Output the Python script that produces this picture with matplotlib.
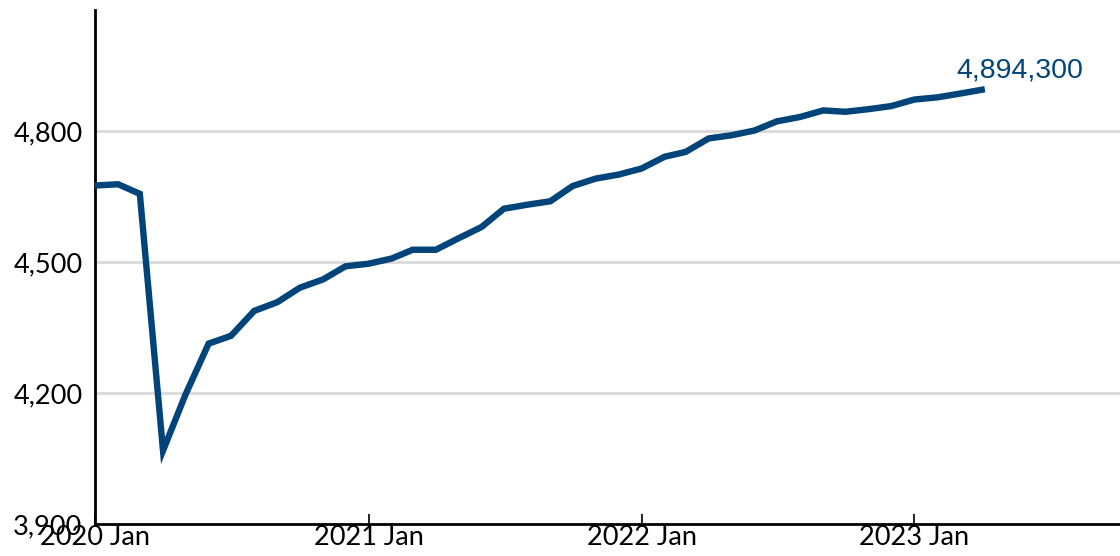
import matplotlib
matplotlib.use("Agg")
from matplotlib import pyplot as plt
import matplotlib.dates as mdates
import pandas as pd

# monthly values, thousands
months = pd.date_range("2020-01-01", periods=40, freq="MS")
values = [4675, 4678, 4656, 4068, 4196, 4313, 4331, 4388, 4408, 4441,
          4460, 4490, 4496, 4508, 4528, 4528, 4554, 4580, 4622, 4631,
          4639, 4674, 4691, 4700, 4714, 4741, 4752, 4783, 4790, 4801,
          4822, 4832, 4847, 4844, 4850, 4857, 4872, 4877, 4885, 4894.3]
last_label = "4,894,300"
yticks = [3900, 4200, 4500, 4800]
xticks = ["2020-01-01", "2021-01-01", "2022-01-01", "2023-01-01"]

line_color = "#00447a"

fig = plt.figure(figsize=(11.2, 5.56), dpi=100)
ax = fig.add_axes([0.0848, 0.0576, 0.9152, 0.9244])

ax.plot(months, values, color=line_color, lw=4.6, solid_joinstyle="miter", zorder=3)

ax.set_ylim(3900, 5077)
ax.set_xlim(pd.Timestamp("2020-01-01"), pd.Timestamp("2023-10-03"))

ax.set_yticks(yticks)
ax.set_yticklabels([f"{v:,}" for v in yticks], fontfamily="Lato", fontsize=19.5)
ax.set_xticks(pd.to_datetime(xticks))
ax.xaxis.set_major_formatter(mdates.DateFormatter("%Y %b"))
for lbl in ax.get_xticklabels():
    lbl.set_fontfamily("Lato")
    lbl.set_fontsize(19.5)

ax.tick_params(axis="y", length=0, pad=9)
ax.tick_params(axis="x", direction="in", length=7, width=1.2, pad=1)

ax.grid(axis="y", color="#d9d9d9", lw=2, zorder=0)
ax.set_axisbelow(True)
for s in ["top", "right"]:
    ax.spines[s].set_visible(False)
for s in ["left", "bottom"]:
    ax.spines[s].set_linewidth(2)
    ax.spines[s].set_color("black")

ax.annotate(last_label, (months[-1], values[-1]), xytext=(-25, 6),
            textcoords="offset pixels", ha="left", va="bottom",
            color=line_color, fontsize=20.5, fontfamily="Liberation Sans")

fig.savefig("out.png", dpi=100)
